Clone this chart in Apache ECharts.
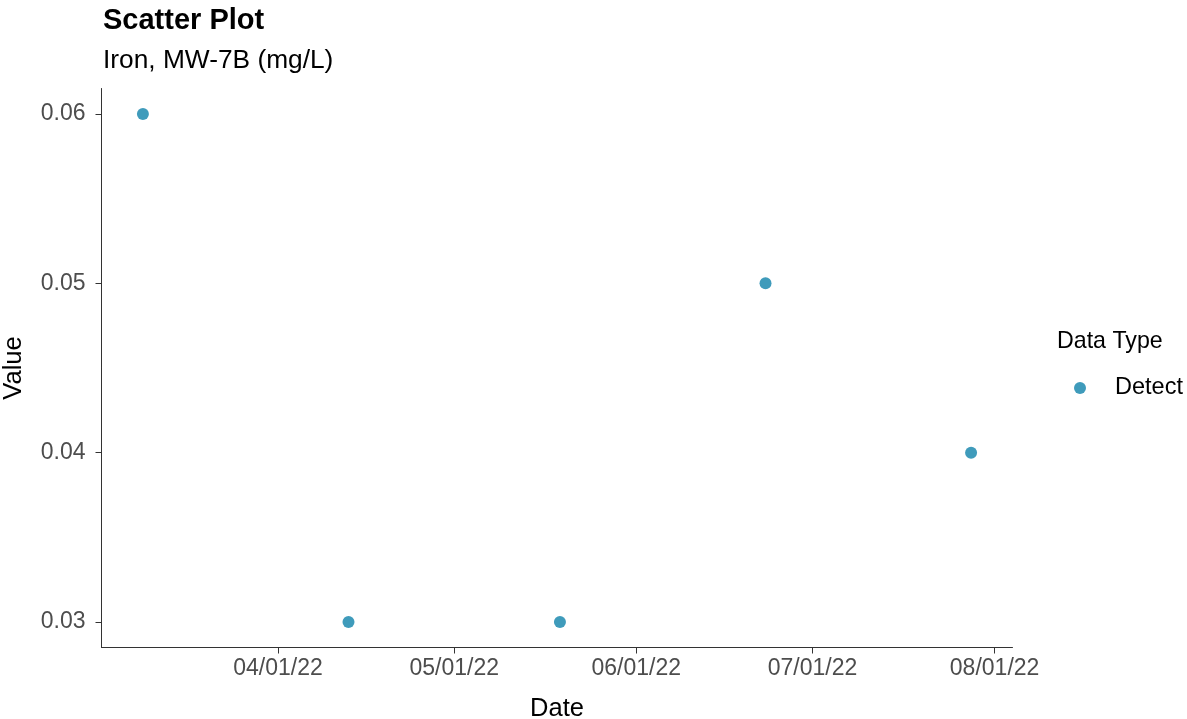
<!DOCTYPE html>
<html>
<head>
<meta charset="utf-8">
<script src="https://cdn.jsdelivr.net/npm/echarts@6/dist/echarts.min.js"></script>
<style>
html,body{margin:0;padding:0;background:#fff;}
#chart{width:1187px;height:719px;}
</style>
</head>
<body>
<div id="chart"></div>
<script>
// ---- data ----
const dates = ['2022-03-09', '2022-04-13', '2022-05-19', '2022-06-23', '2022-07-28'];
const values = [0.06, 0.03, 0.03, 0.05, 0.04];
const xTickDates = ['2022-04-01', '2022-05-01', '2022-06-01', '2022-07-01', '2022-08-01'];
const yTicks = [0.03, 0.04, 0.05, 0.06];
const seriesName = 'Detect';

const DAY = 86400000;
function ts(s) { const p = s.split('-').map(Number); return Date.UTC(p[0], p[1] - 1, p[2]); }
const xs = dates.map(ts);
const xMinD = Math.min(...xs), xMaxD = Math.max(...xs);
const xPad = (xMaxD - xMinD) * 0.05;
const yMinD = Math.min(...values), yMaxD = Math.max(...values);
const yPad = (yMaxD - yMinD) * 0.05;

function fmtDate(v) {
  const d = new Date(v);
  const mm = String(d.getUTCMonth() + 1).padStart(2, '0');
  const dd = String(d.getUTCDate()).padStart(2, '0');
  const yy = String(d.getUTCFullYear() % 100).padStart(2, '0');
  return mm + '/' + dd + '/' + yy;
}

const FONT = '"Liberation Sans", Arial, Helvetica, sans-serif';
const chart = echarts.init(document.getElementById('chart'), null, { renderer: 'canvas' });
chart.setOption({
  animation: false,
  backgroundColor: '#ffffff',
  textStyle: { fontFamily: FONT },
  title: [
    { text: 'Scatter Plot', left: 98, top: 1,
      textStyle: { fontFamily: FONT, fontSize: 29, fontWeight: 'bold', color: '#000' } },
    { text: 'Iron, MW-7B (mg/L)', left: 98, top: 43,
      textStyle: { fontFamily: FONT, fontSize: 26.3, fontWeight: 'normal', color: '#000' } },
    { text: 'Data Type', left: 1052, top: 325,
      textStyle: { fontFamily: FONT, fontSize: 23.2, fontWeight: 'normal', color: '#000' } }
  ],
  legend: {
    left: 1069, top: 371, orient: 'vertical',
    icon: 'circle', itemWidth: 38, itemHeight: 12,
    textStyle: { fontFamily: FONT, fontSize: 23.5, color: '#000', padding: [0, 0, 0, 11] },
    data: [seriesName]
  },
  grid: { left: 101.5, right: 174.5, top: 88.5, bottom: 71.5, containLabel: false, outerBoundsMode: 'none' },
  xAxis: {
    type: 'value',
    min: xMinD - xPad, max: xMaxD + xPad,
    name: 'Date', nameLocation: 'middle', nameGap: 48,
    nameTextStyle: { fontFamily: FONT, fontSize: 25.5, color: '#000' },
    axisLine: { show: true, lineStyle: { color: '#333', width: 1 } },
    axisTick: { show: true, length: 6, lineStyle: { color: '#333', width: 1 },
      customValues: xTickDates.map(ts) },
    axisLabel: { fontFamily: FONT, fontSize: 23, color: '#4D4D4D', margin: 10,
      customValues: xTickDates.map(ts), formatter: fmtDate },
    splitLine: { show: false }
  },
  yAxis: {
    type: 'value',
    min: yMinD - yPad, max: yMaxD + yPad,
    name: 'Value', nameLocation: 'middle', nameGap: 75, nameRotate: 90,
    nameTextStyle: { fontFamily: FONT, fontSize: 25.5, color: '#000' },
    axisLine: { show: true, lineStyle: { color: '#333', width: 1 } },
    axisTick: { show: true, length: 6, lineStyle: { color: '#333', width: 1 },
      customValues: yTicks },
    axisLabel: { fontFamily: FONT, fontSize: 23, color: '#4D4D4D', margin: 16,
      customValues: yTicks, formatter: v => v.toFixed(2) },
    splitLine: { show: false }
  },
  series: [{
    name: seriesName,
    type: 'scatter',
    symbol: 'circle',
    symbolSize: 12,
    itemStyle: { color: '#3F9BBB', opacity: 1 },
    data: xs.map((x, i) => [x, values[i]])
  }]
});
</script>
</body>
</html>
